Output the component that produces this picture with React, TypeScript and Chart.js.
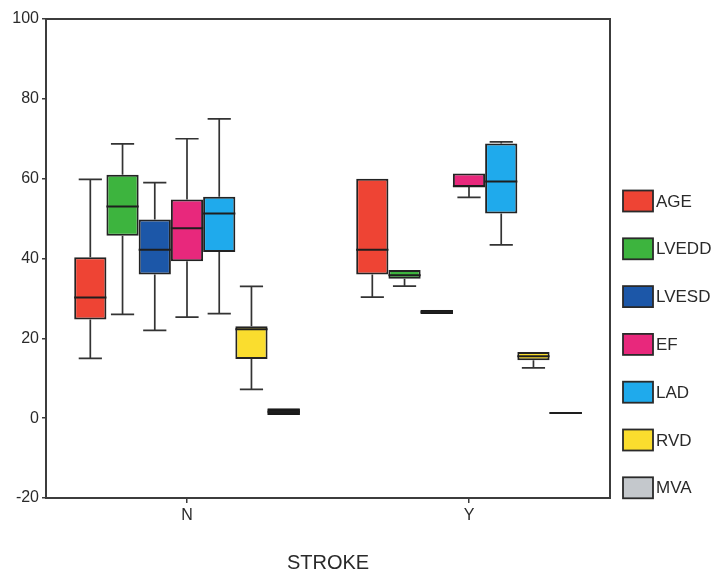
import React, { useEffect, useRef } from 'react';
import { Chart, registerables } from 'chart.js';

Chart.register(...registerables);

const categories = ['N', 'Y'];
const seriesLabels = ['AGE', 'LVEDD', 'LVESD', 'EF', 'LAD', 'RVD', 'MVA'];
// each entry: [min, q1, median, q3, max] for N, then Y
const ageStats = [[15, 24.7, 30.2, 40.3, 59.8], [30.3, 36, 42.2, 60, 60]];
const lveddStats = [[26, 45.7, 53, 61, 68.7], [33.1, 34.9, 35.8, 37.1, 37.1]];
const lvesdStats = [[22, 36, 42.2, 49.8, 59], [26.1, 26.1, 26.6, 27.1, 27.1]];
const efStats = [[25.3, 39.3, 47.6, 54.8, 70], [55.3, 57.9, 58.1, 61.3, 61.3]];
const ladStats = [[26.2, 41.6, 51.3, 55.5, 75], [43.4, 51.3, 59.3, 68.8, 69.2]];
const rvdStats = [[7.2, 14.8, 22.3, 23, 33], [12.6, 14.5, 15.5, 16.6, 16.6]];
const mvaStats = [[0.8, 0.8, 1.6, 2.4, 2.4], [1.1, 1.1, 1.3, 1.5, 1.5]];
const allStats = [ageStats, lveddStats, lvesdStats, efStats, ladStats, rvdStats, mvaStats];
const seriesColors = ['#EE4434', '#3DB43E', '#1C57A8', '#E8287C', '#1FAAEC', '#FADD2E', '#C4C8CC'];
const yTicks = [-20, 0, 20, 40, 60, 80, 100];
const xTitle = 'STROKE';

const FONT = "'Liberation Sans', Arial, sans-serif";
const INK = '#2a2a2a';

const boxPlotPlugin = {
  id: 'boxPlotWhiskers',
  afterDatasetsDraw(chart: any) {
    const ctx = chart.ctx;
    const yScale = chart.scales.y;
    chart.data.datasets.forEach((ds: any, di: number) => {
      const meta = chart.getDatasetMeta(di);
      const stats = ds.stats as number[][];
      meta.data.forEach((el: any, i: number) => {
        const [mn, q1, med, q3, mx] = stats[i];
        const x = el.x;
        const w = el.width;
        const cap = w * 0.36;
        const yMin = yScale.getPixelForValue(mn);
        const yQ1 = yScale.getPixelForValue(q1);
        const yMed = yScale.getPixelForValue(med);
        const yQ3 = yScale.getPixelForValue(q3);
        const yMax = yScale.getPixelForValue(mx);
        ctx.save();
        // very short boxes collapse into a solid dark bar
        if (yQ1 - yQ3 < 7) {
          ctx.fillStyle = '#1a1a1a';
          ctx.fillRect(x - w / 2, yQ3, w, yQ1 - yQ3);
        }
        ctx.strokeStyle = '#333333';
        ctx.lineWidth = 1.7;
        ctx.beginPath();
        if (mx > q3) {
          ctx.moveTo(x, yQ3);
          ctx.lineTo(x, yMax);
          ctx.moveTo(x - cap, yMax);
          ctx.lineTo(x + cap, yMax);
        }
        if (mn < q1) {
          ctx.moveTo(x, yQ1);
          ctx.lineTo(x, yMin);
          ctx.moveTo(x - cap, yMin);
          ctx.lineTo(x + cap, yMin);
        }
        ctx.stroke();
        ctx.strokeStyle = '#1e1e1e';
        ctx.lineWidth = 2;
        ctx.beginPath();
        ctx.moveTo(x - w / 2, yMed);
        ctx.lineTo(x + w / 2, yMed);
        ctx.stroke();
        ctx.restore();
      });
    });
  },
};

const framePlugin = {
  id: 'plotFrame',
  afterDraw(chart: any) {
    const { ctx, chartArea } = chart;
    ctx.save();
    ctx.strokeStyle = '#3c3c3c';
    ctx.lineWidth = 2;
    ctx.strokeRect(chartArea.left, chartArea.top, chartArea.right - chartArea.left, chartArea.bottom - chartArea.top);
    ctx.restore();
  },
};

const legendPlugin = {
  id: 'sideLegend',
  afterDraw(chart: any) {
    const { ctx, chartArea } = chart;
    const x0 = chartArea.right + 13;
    const yStart = 201;
    const step = 47.8;
    ctx.save();
    chart.data.datasets.forEach((ds: any, i: number) => {
      const yc = yStart + i * step;
      ctx.fillStyle = ds.backgroundColor;
      ctx.fillRect(x0, yc - 10.5, 30, 21);
      ctx.strokeStyle = '#2a2a2a';
      ctx.lineWidth = 1.8;
      ctx.strokeRect(x0, yc - 10.5, 30, 21);
      ctx.fillStyle = INK;
      ctx.font = `17px ${FONT}`;
      ctx.textAlign = 'left';
      ctx.textBaseline = 'middle';
      ctx.fillText(ds.label, x0 + 33, yc + 1);
    });
    ctx.restore();
  },
};

export default function App() {
  const canvasRef = useRef<HTMLCanvasElement | null>(null);

  useEffect(() => {
    if (!canvasRef.current) return;
    const datasets = seriesLabels.map((label, si) => ({
      label,
      data: allStats[si].map((s) => [s[1], s[3]]),
      stats: allStats[si],
      backgroundColor: seriesColors[si],
      borderColor: '#232323',
      borderWidth: 2,
      borderSkipped: false,
      categoryPercentage: 0.8,
      barPercentage: 1.0,
    }));
    const chart = new Chart(canvasRef.current, {
      type: 'bar',
      data: { labels: categories, datasets: datasets as any },
      options: {
        animation: false,
        responsive: true,
        maintainAspectRatio: false,
        layout: { padding: { top: 19, right: 105, left: 0, bottom: 0 } },
        plugins: {
          legend: { display: false },
          tooltip: { enabled: false },
        },
        scales: {
          x: {
            offset: true,
            grid: { display: true, drawOnChartArea: false, offset: false, tickLength: 5, color: '#3c3c3c', lineWidth: 1.5 },
            border: { display: false },
            ticks: { color: INK, font: { family: FONT, size: 16 }, padding: 3 },
            title: { display: true, text: xTitle, color: INK, font: { family: FONT, size: 20 }, padding: { top: 0, bottom: 2 } },
            afterFit(scale: any) { scale.height = 79; },
          },
          y: {
            min: -20,
            max: 100,
            afterBuildTicks(scale: any) { scale.ticks = yTicks.map((v) => ({ value: v })); },
            grid: { display: true, drawOnChartArea: false, tickLength: 4, color: '#3c3c3c', lineWidth: 1.5 },
            border: { display: false },
            ticks: { color: INK, font: { family: FONT, size: 16 }, padding: 3 },
            afterFit(scale: any) { scale.width = 46; },
          },
        },
      },
      plugins: [boxPlotPlugin, framePlugin, legendPlugin],
    });
    return () => chart.destroy();
  }, []);

  return (
    <div style={{ position: 'fixed', left: 0, top: 0, width: 715, height: 577, background: '#fff' }}>
      <canvas ref={canvasRef} />
    </div>
  );
}
